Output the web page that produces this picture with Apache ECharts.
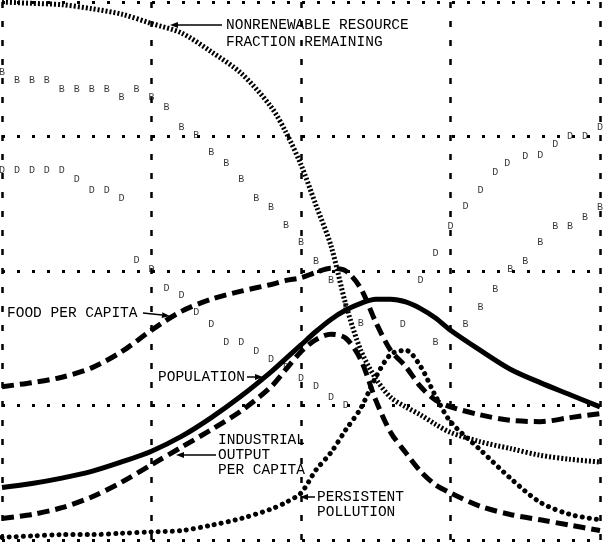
<!DOCTYPE html>
<html>
<head>
<meta charset="utf-8">
<script src="https://cdn.jsdelivr.net/npm/echarts@6/dist/echarts.min.js"></script>
<style>
html,body{margin:0;padding:0;background:#fff}
#chart{width:603px;height:542px}
</style>
</head>
<body>
<div id="chart"></div>
<script>
// shared time axis for the five main curves
var years = [1900,1910,1920,1930,1940,1950,1960,1970,1980,1990,1995,2000,2005,2010,2015,2020,2025,2030,2035,2040,2045,2050,2060,2070,2080,2090,2100];

// values in grid units (0..4, one unit per grid band)
var resources   = [4.00,3.99,3.98,3.95,3.91,3.84,3.77,3.63,3.47,3.22,3.03,2.79,2.49,2.19,1.75,1.41,1.20,1.06,0.99,0.93,0.86,0.80,0.73,0.68,0.63,0.60,0.58];
var foodPerCap  = [1.14,1.17,1.21,1.28,1.40,1.56,1.70,1.79,1.85,1.90,1.93,1.95,1.99,2.02,2.00,1.87,1.62,1.41,1.29,1.14,1.04,0.99,0.93,0.89,0.88,0.91,0.94];
var population  = [0.39,0.42,0.46,0.51,0.58,0.66,0.77,0.91,1.07,1.25,1.35,1.45,1.55,1.64,1.71,1.76,1.79,1.79,1.77,1.72,1.65,1.56,1.41,1.27,1.17,1.08,0.99];
var industrial  = [0.16,0.19,0.24,0.32,0.43,0.56,0.69,0.82,0.96,1.14,1.27,1.40,1.49,1.53,1.50,1.34,1.04,0.80,0.65,0.51,0.41,0.35,0.25,0.19,0.15,0.11,0.07];
var pollution   = [0.02,0.03,0.04,0.04,0.05,0.06,0.07,0.11,0.16,0.23,0.28,0.35,0.52,0.65,0.82,0.98,1.21,1.38,1.41,1.29,1.07,0.88,0.67,0.46,0.28,0.19,0.15];

// letter-plotted curves
var birthYears = [1900,1905,1910,1915,1920,1925,1930,1935,1940,1945,1950,1955,1960,1965,1970,1975,1980,1985,1990,1995,2000,2005,2010,2015,2020,
                  2045,2055,2060,2065,2070,2075,2080,2085,2090,2095,2100];
var birthRate  = [3.48,3.42,3.42,3.42,3.35,3.35,3.35,3.35,3.29,3.35,3.29,3.22,3.07,3.01,2.88,2.80,2.68,2.54,2.47,2.34,2.21,2.07,1.93,1.73,1.61,
                  1.47,1.60,1.73,1.86,2.01,2.07,2.21,2.33,2.33,2.40,2.47];
var deathYears = [1900,1905,1910,1915,1920,1925,1930,1935,1940,1945,1950,1955,1960,1965,1970,1975,1980,1985,1990,1995,2000,2005,2010,2015,
                  2034,2040,2045,2050,2055,2060,2065,2069,2075,2080,2085,2090,2095,2100];
var deathRate  = [2.75,2.75,2.75,2.75,2.75,2.68,2.60,2.60,2.54,2.08,2.01,1.87,1.82,1.69,1.60,1.47,1.47,1.40,1.34,1.28,1.20,1.14,1.06,1.00,
                  1.60,1.93,2.13,2.33,2.48,2.60,2.73,2.80,2.85,2.86,2.94,3.00,3.00,3.07];

var FONT = '14.5px "Liberation Mono", "DejaVu Sans Mono", monospace';

function pairs(xs, ys) {
  return xs.map(function (x, i) { return [x, ys[i]]; });
}

function curve(name, values, type, width, cap) {
  return {
    name: name,
    type: 'line',
    data: pairs(years, values),
    smooth: 0.3,
    showSymbol: false,
    silent: true,
    z: 3,
    lineStyle: { color: '#000', width: width, type: type, cap: cap || 'butt' }
  };
}

function letters(name, xs, ys, ch) {
  return {
    name: name,
    type: 'scatter',
    data: pairs(xs, ys),
    symbolSize: 1,
    silent: true,
    z: 2,
    itemStyle: { color: 'rgba(0,0,0,0)' },
    label: {
      show: true, position: 'inside', formatter: ch,
      fontSize: 10, fontFamily: 'Liberation Mono', color: '#000'
    }
  };
}

function label(x, y, text) {
  return { type: 'text', x: x, y: y, silent: true,
    style: { text: text, font: FONT, fill: '#000', align: 'left', verticalAlign: 'middle' } };
}

function arrow(x1, y1, x2, y2) {
  var a = Math.atan2(y2 - y1, x2 - x1), L = 8, W = 3;
  var bx = x2 - L * Math.cos(a), by = y2 - L * Math.sin(a);
  var nx = -Math.sin(a) * W, ny = Math.cos(a) * W;
  return [
    { type: 'line', silent: true, shape: { x1: x1, y1: y1, x2: bx, y2: by },
      style: { stroke: '#000', lineWidth: 1.5 } },
    { type: 'polygon', silent: true,
      shape: { points: [[x2, y2], [bx + nx, by + ny], [bx - nx, by - ny]] },
      style: { fill: '#000' } }
  ];
}

var graphics = [].concat(
  [label(226, 25, 'NONRENEWABLE RESOURCE'), label(226, 42, 'FRACTION REMAINING')],
  arrow(222, 25, 170, 25),
  [label(7, 313, 'FOOD PER CAPITA')],
  arrow(143, 313, 170, 316),
  [label(158, 377, 'POPULATION')],
  arrow(247, 377, 263, 377),
  [label(218, 440, 'INDUSTRIAL'), label(218, 455, 'OUTPUT'), label(218, 470, 'PER CAPITA')],
  arrow(216, 455, 176, 455),
  [label(317, 497, 'PERSISTENT'), label(317, 512, 'POLLUTION')],
  arrow(315, 497, 300, 497)
);

var chart = echarts.init(document.getElementById('chart'));
chart.setOption({
  animation: false,
  backgroundColor: '#fff',
  grid: { left: 2, right: 3, top: 2, bottom: 2 },
  xAxis: {
    type: 'value', min: 1900, max: 2100, interval: 50,
    axisLine: { show: false }, axisTick: { show: false }, axisLabel: { show: false },
    splitLine: { show: true, lineStyle: { color: '#000', width: 2.5, type: [6, 13] } }
  },
  yAxis: {
    type: 'value', min: 0, max: 4, interval: 1,
    axisLine: { show: false }, axisTick: { show: false }, axisLabel: { show: false },
    splitLine: { show: true, lineStyle: { color: '#000', width: 3, type: [3, 12] } }
  },
  series: [
    letters('crude birth rate', birthYears, birthRate, 'B'),
    letters('crude death rate', deathYears, deathRate, 'D'),
    curve('resources', resources, [2, 2], 5),
    curve('food per capita', foodPerCap, [12, 6], 5),
    curve('population', population, 'solid', 5),
    curve('industrial output per capita', industrial, [12, 6], 5),
    curve('persistent pollution', pollution, [0.1, 7], 5, 'round')
  ],
  graphic: graphics
});
</script>
</body>
</html>
